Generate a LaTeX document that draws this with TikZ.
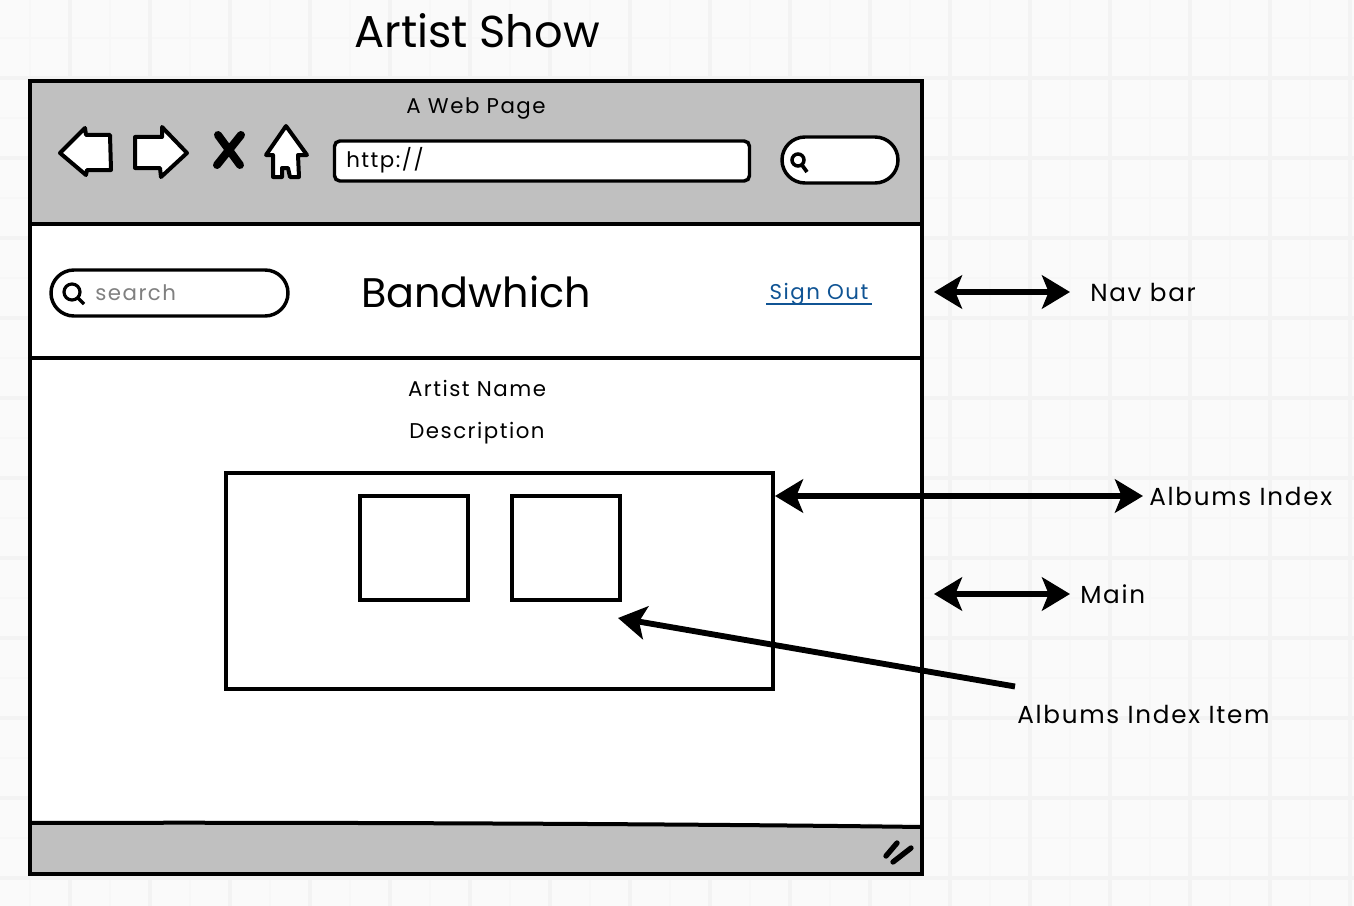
\documentclass[tikz,border=0pt]{standalone}
\usepackage{fontspec}
\setmainfont{Poppins}
\usetikzlibrary{arrows.meta, positioning, shapes.misc}
\definecolor{pagebg}{RGB}{250,250,250}
\definecolor{gridmajor}{RGB}{243,243,243}
\definecolor{gridminor}{RGB}{247,247,247}
\definecolor{chrome}{RGB}{192,192,192}
\definecolor{linkblue}{RGB}{16,84,148}
\tikzset{
	panel/.style={draw=black, line width=3pt, minimum width=#1, inner sep=0pt, outer sep=0pt, anchor=north west},
	sketchbox/.style={draw=black, line width=2.6pt, fill=white, inner sep=0pt},
	bigarrow/.style={line width=4.4pt, {Stealth[length=21pt,width=25pt,inset=5pt]}-{Stealth[length=21pt,width=25pt,inset=5pt]}},
	onearrow/.style={line width=4.4pt, -{Stealth[length=21pt,width=25pt,inset=5pt]}},
	icon/.style={draw=black, line width=3pt, fill=white, line join=round},
	label/.style={font=\fontsize{16}{19}\selectfont\addfontfeature{LetterSpace=7}, inner ysep=0pt},
	biglabel/.style={font=\fontsize{18.5}{22}\selectfont\addfontfeature{LetterSpace=7}, inner ysep=0pt}
}
\begin{document}
\begin{tikzpicture}[x=0.75pt, y=-0.75pt]
	\useasboundingbox (0,0) rectangle (1354,906);
	% Paper with its grid
	\fill[pagebg] (0,0) rectangle (1354,906);
	\foreach \x in {30,110,...,1350} \draw[gridminor, line width=1pt] (\x,0) -- (\x,906);
	\foreach \y in {38,118,...,900} \draw[gridminor, line width=1pt] (0,\y) -- (1354,\y);
	\foreach \x in {70,150,...,1350} \draw[gridmajor, line width=3pt] (\x,0) -- (\x,906);
	\foreach \y in {78,158,...,900} \draw[gridmajor, line width=3pt] (0,\y) -- (1354,\y);

	% Title
	\node[font=\fontsize{33.5}{38}\selectfont] (title) at (477,31) {Artist Show};

	% Browser window
	\fill[chrome] (30,81) rectangle (922,224);
	\fill[white] (30,224) rectangle (922,823);
	\fill[chrome] (30,823) .. controls (300,822) and (700,824) .. (922,827) -- (922,874) -- (30,874) -- cycle;
	\node[panel=892*0.75pt, minimum height=143*0.75pt] (toolbar) at (30,81) {};
	\node[panel=892*0.75pt, minimum height=134*0.75pt] (navpanel) at (30,224) {};
	\node[panel=892*0.75pt, minimum height=516*0.75pt] (mainpanel) at (30,358) {};
	\draw[black, line width=3pt] (30,823) .. controls (300,822) and (700,824) .. (922,827);

	% Toolbar
	\node[label] (pagename) at (476,108) {A Web Page};
	\draw[icon] (60,153) -- (85,128) -- (86,135) -- (110,135) -- (111,170) -- (87,170) -- (86,175) -- cycle;
	\draw[icon] (135,137) -- (162,137) -- (162,127) -- (187,153) -- (161,177) -- (160,168) -- (135,168) -- cycle;
	\draw[black, line width=6pt, line cap=round] (218,135) -- (240,165) (241,135) -- (217,165);
	\draw[icon] (286,126) -- (307,155) -- (298,155) -- (299,177) -- (290,177) -- (288,168) -- (282,168) -- (282,177) -- (273,177) -- (273,155) -- (266,155) -- cycle;
	\node[sketchbox, rounded corners=4pt, minimum width=415*0.75pt, minimum height=40*0.75pt] (urlbox) at (542,161) {};
	\node[label, anchor=west, inner xsep=0pt] (urltext) at (346,160) {http://};
	\node[sketchbox, rounded rectangle, minimum width=116*0.75pt, minimum height=46*0.75pt] (toolsearch) at (840,160) {};
	\draw[black, line width=2.6pt] (798,160) circle (6);
	\draw[black, line width=2.8pt] (802,165) -- (807,172);

	% Nav bar
	\node[sketchbox, rounded rectangle, minimum width=237*0.75pt, minimum height=46*0.75pt] (navsearch) at (169.5,293) {};
	\draw[black, line width=2.4pt] (72,292) circle (8);
	\draw[black, line width=2.6pt] (78,298) -- (84,304);
	\node[label, anchor=west, inner xsep=0pt, text=gray] (searchtext) at (95,293) {search};
	\node[font=\fontsize{31}{36}\selectfont] (brand) at (476,292) {Bandwhich};
	\node[label, text=linkblue] (signout) at (819,294) {Sign Out};
	\draw[linkblue, line width=1.6pt] (766,304) -- (872,304);

	% Main
	\node[label] (artistname) at (477,388) {Artist Name};
	\node[label] (description) at (477,433) {Description};
	\node[sketchbox, minimum width=547*0.75pt, minimum height=216*0.75pt] (albumsbox) at (499.5,581) {};
	\foreach \x/\name in {414/itemone,566/itemtwo}
		\node[sketchbox, minimum width=108*0.75pt, minimum height=104*0.75pt] (\name) at (\x,548) {};

	% Status bar grip
	\draw[black, line width=4pt, line cap=round] (886,856) -- (897,843) (893,862) -- (911,848);

	% Labels and arrows
	\node[biglabel, anchor=west, inner xsep=15pt] (navlabel) at (1070,292) {Nav bar};
	\node[biglabel, anchor=west, inner xsep=4.5pt] (albumslabel) at (1143,496) {Albums Index};
	\node[biglabel, anchor=west, inner xsep=7.5pt] (mainlabel) at (1070,594) {Main};
	\node[biglabel, anchor=west, inner xsep=0pt] (itemlabel) at (1017,714) {Albums Index Item};
	\coordinate (navtail) at (934,292);
	\coordinate (albumstail) at (775,496);
	\coordinate (maintail) at (934,594);
	\coordinate (itemtip) at (618,618);
	\draw[bigarrow] (navtail) -- (navlabel);
	\draw[bigarrow] (albumstail) -- (albumslabel);
	\draw[bigarrow] (maintail) -- (mainlabel);
	\draw[onearrow] (itemlabel.north west) ++(-2,-18) -- (itemtip);
\end{tikzpicture}
\end{document}
